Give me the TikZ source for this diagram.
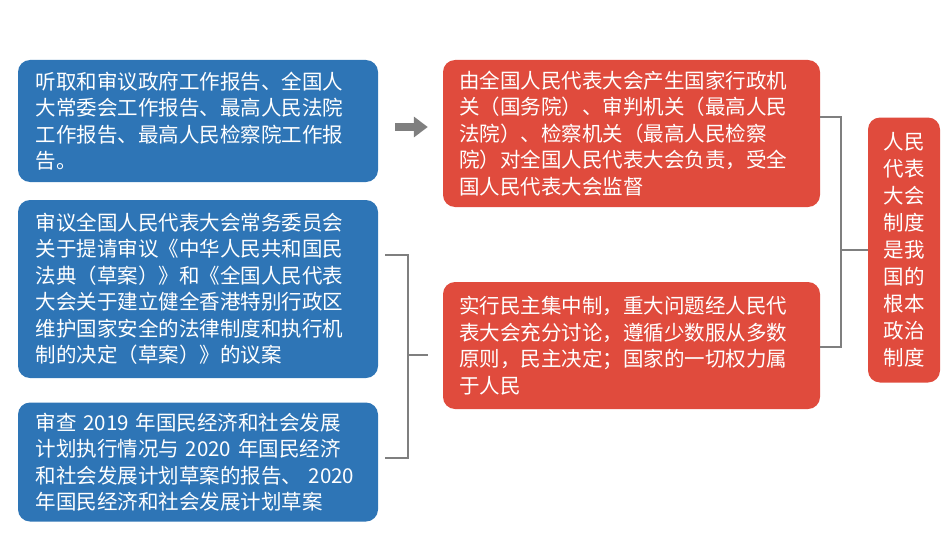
\documentclass[tikz,border=0pt]{standalone}
\usepackage{fontspec}
\setmainfont{Noto Sans CJK SC}
\usetikzlibrary{arrows.meta,positioning}
\definecolor{boxblue}{HTML}{2E75B6}
\definecolor{boxred}{HTML}{E04B3D}
\definecolor{bracegray}{HTML}{7F7F7F}

\begin{document}
\begin{tikzpicture}[x=1pt,y=-1pt,
    box/.style={rounded corners=12pt, text=white, align=left, inner sep=0pt,
                font=\fontsize{20.5}{26.5}\selectfont},
    bluebox/.style={box, fill=boxblue, minimum width=360pt, text width=325pt},
    redbox/.style={box, fill=boxred, minimum width=377pt, text width=345pt},
    brace/.style={bracegray, line width=2.5pt}]

\useasboundingbox (0,0) rectangle (950,535);

\node[bluebox, minimum height=122pt] (b1) at (198,121)
  {听取和审议政府工作报告、全国人\\大常委会工作报告、最高人民法院\\工作报告、最高人民检察院工作报\\告。};
\node[bluebox, minimum height=178pt] (b2) at (198,289)
  {审议全国人民代表大会常务委员会\\关于提请审议《中华人民共和国民\\法典（草案）》和《全国人民代表\\大会关于建立健全香港特别行政区\\维护国家安全的法律制度和执行机\\制的决定（草案）》的议案};
\node[bluebox, minimum height=119pt] (b3) at (198,462)
  {审查 2019 年国民经济和社会发展\\计划执行情况与 2020 年国民经济\\和社会发展计划草案的报告、 2020\\年国民经济和社会发展计划草案};

\node[redbox, minimum height=147pt] (r1) at (631.5,133.5)
  {由全国人民代表大会产生国家行政机\\关（国务院）、审判机关（最高人民\\法院）、检察机关（最高人民检察\\院）对全国人民代表大会负责，受全\\国人民代表大会监督};
\node[redbox, minimum height=127pt] (r2) at (631.5,345.5)
  {实行民主集中制，重大问题经人民代\\表大会充分讨论，遵循少数服从多数\\原则，民主决定；国家的一切权力属\\于人民};

\node[box, fill=boxred, minimum width=72pt, minimum height=265pt, align=center,
      font=\fontsize{20.5}{27}\selectfont] (core) at (904,250)
  {人民\\代表\\大会\\制度\\是我\\国的\\根本\\政治\\制度};

% arrow between the first pair
\draw[bracegray, line width=8pt, -{Triangle[length=14pt,width=20pt]},
      shorten <=17pt, shorten >=15pt] (b1.east |- 0,127) -- (r1.west |- 0,127);

% left bracket
\coordinate (lt) at (385,255);
\coordinate (lb) at (385,458);
\coordinate (lm) at (428,355);
\draw[brace] (lt) -- (408,255) -- (408,458) -- (lb);
\draw[brace] (408,355) -- (lm);

% right bracket
\coordinate (rt) at (r1.east |- 0,117);
\coordinate (rb) at (r2.east |- 0,347);
\draw[brace] (rt) -- (841,117) -- (841,347) -- (rb);
\draw[brace] (841,250) -- (core.west |- 0,250);
\end{tikzpicture}
\end{document}
